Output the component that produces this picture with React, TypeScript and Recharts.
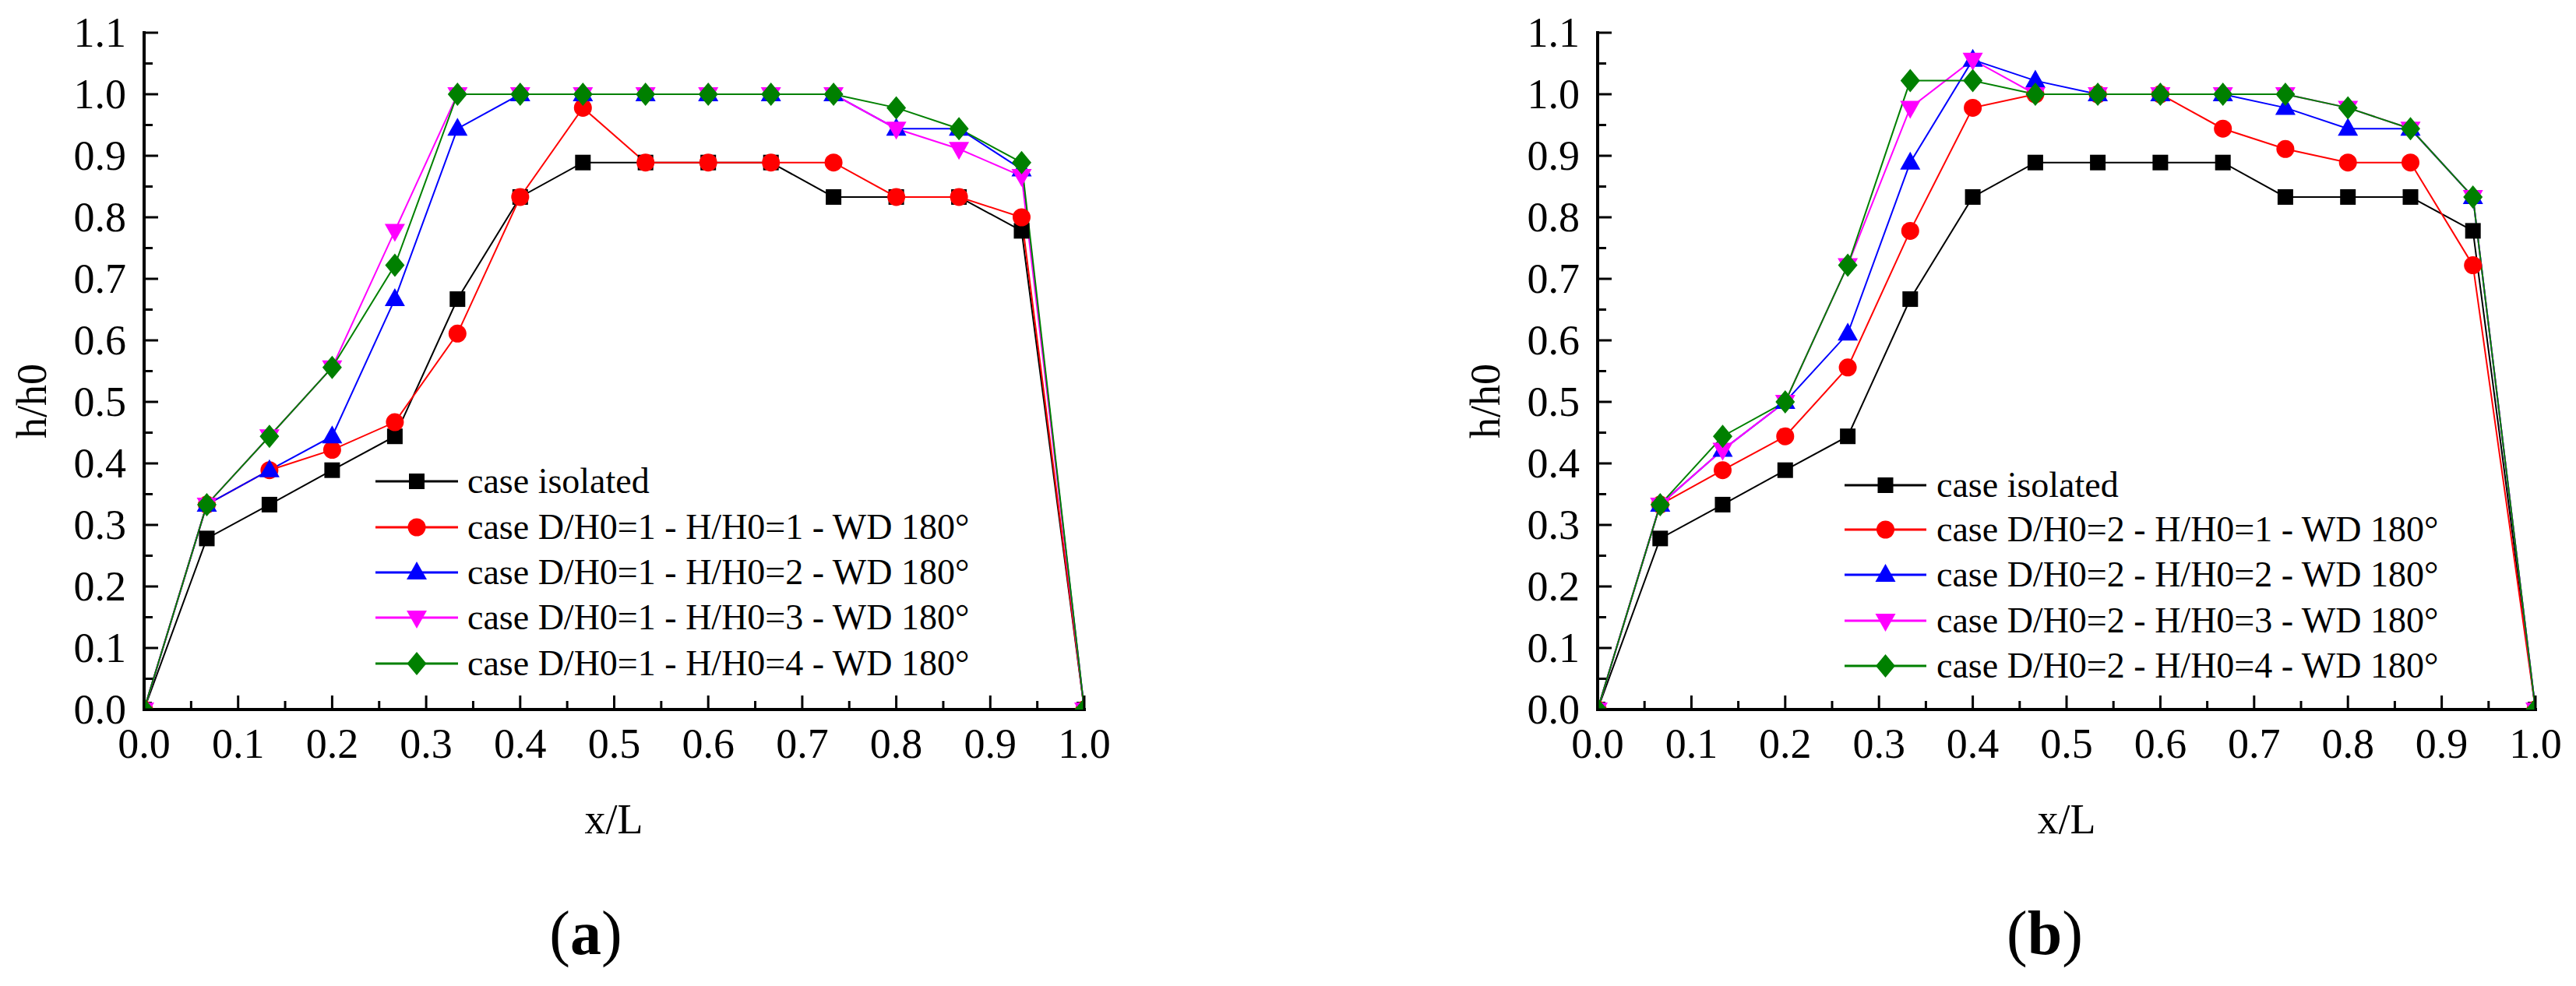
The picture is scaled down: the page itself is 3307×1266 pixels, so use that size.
import React from 'react';
import { LineChart, Line, XAxis, YAxis } from 'recharts';

const FONT = '"Liberation Serif", "Times New Roman", Times, serif';

// x/L positions of the measurement points
const xPositions = [0, 0.0667, 0.1333, 0.2, 0.2667, 0.3333, 0.4, 0.4667, 0.5333, 0.6, 0.6667, 0.7333, 0.8, 0.8667, 0.9333, 1.0];

// Panel (a): D/H0 = 1
const isolatedA = [0, 0.278, 0.333, 0.389, 0.444, 0.667, 0.833, 0.889, 0.889, 0.889, 0.889, 0.833, 0.833, 0.833, 0.778, 0];
const h1A = [0, 0.333, 0.389, 0.422, 0.467, 0.611, 0.833, 0.978, 0.889, 0.889, 0.889, 0.889, 0.833, 0.833, 0.8, 0];
const h2A = [0, 0.333, 0.389, 0.444, 0.667, 0.944, 1.0, 1.0, 1.0, 1.0, 1.0, 1.0, 0.944, 0.944, 0.878, 0];
const h3A = [0, 0.333, 0.444, 0.556, 0.778, 1.0, 1.0, 1.0, 1.0, 1.0, 1.0, 1.0, 0.944, 0.911, 0.867, 0];
const h4A = [0, 0.333, 0.444, 0.556, 0.722, 1.0, 1.0, 1.0, 1.0, 1.0, 1.0, 1.0, 0.978, 0.944, 0.889, 0];

// Panel (b): D/H0 = 2
const isolatedB = [0, 0.278, 0.333, 0.389, 0.444, 0.667, 0.833, 0.889, 0.889, 0.889, 0.889, 0.833, 0.833, 0.833, 0.778, 0];
const h1B = [0, 0.333, 0.389, 0.444, 0.556, 0.778, 0.978, 1.0, 1.0, 1.0, 0.944, 0.911, 0.889, 0.889, 0.722, 0];
const h2B = [0, 0.333, 0.422, 0.5, 0.611, 0.889, 1.056, 1.022, 1.0, 1.0, 1.0, 0.978, 0.944, 0.944, 0.833, 0];
const h3B = [0, 0.333, 0.422, 0.5, 0.722, 0.978, 1.056, 1.0, 1.0, 1.0, 1.0, 1.0, 0.978, 0.944, 0.833, 0];
const h4B = [0, 0.333, 0.444, 0.5, 0.722, 1.022, 1.022, 1.0, 1.0, 1.0, 1.0, 1.0, 0.978, 0.944, 0.833, 0];

const seriesKeys = ['iso', 'h1', 'h2', 'h3', 'h4'];
const seriesColors = ['#000000', '#ff0000', '#0000ff', '#ff00ff', '#008000'];
const seriesShapes = ['square', 'circle', 'up', 'down', 'diamond'];
const namesA = [
  'case isolated',
  'case D/H0=1 - H/H0=1 - WD 180°',
  'case D/H0=1 - H/H0=2 - WD 180°',
  'case D/H0=1 - H/H0=3 - WD 180°',
  'case D/H0=1 - H/H0=4 - WD 180°',
];
const namesB = [
  'case isolated',
  'case D/H0=2 - H/H0=1 - WD 180°',
  'case D/H0=2 - H/H0=2 - WD 180°',
  'case D/H0=2 - H/H0=3 - WD 180°',
  'case D/H0=2 - H/H0=4 - WD 180°',
];

const xTicks = [0, 0.05, 0.1, 0.15, 0.2, 0.25, 0.3, 0.35, 0.4, 0.45, 0.5, 0.55, 0.6, 0.65, 0.7, 0.75, 0.8, 0.85, 0.9, 0.95, 1.0];
const yTicks = [0, 0.05, 0.1, 0.15, 0.2, 0.25, 0.3, 0.35, 0.4, 0.45, 0.5, 0.55, 0.6, 0.65, 0.7, 0.75, 0.8, 0.85, 0.9, 0.95, 1.0, 1.05, 1.1];

const buildData = (cols: number[][]) =>
  xPositions.map((x, i) => {
    const row: any = { x };
    seriesKeys.forEach((k, s) => {
      row[k] = cols[s][i];
    });
    return row;
  });

const dataA = buildData([isolatedA, h1A, h2A, h3A, h4A]);
const dataB = buildData([isolatedB, h1B, h2B, h3B, h4B]);

const isMajor = (v: number) => Math.abs(v * 10 - Math.round(v * 10)) < 1e-6;
const MAJOR = 18;
const MINOR = 11;
const TICK_W = 3;
const TICK_FONT = 54;

function Marker({ shape, cx, cy, color }: any) {
  if (cx == null || cy == null || isNaN(cx) || isNaN(cy)) return null;
  switch (shape) {
    case 'square':
      return <rect x={cx - 10} y={cy - 10} width={20} height={20} fill={color} />;
    case 'circle':
      return <circle cx={cx} cy={cy} r={11.5} fill={color} />;
    case 'up':
      return <polygon points={`${cx},${cy - 14} ${cx + 13},${cy + 9} ${cx - 13},${cy + 9}`} fill={color} />;
    case 'down':
      return <polygon points={`${cx},${cy + 14} ${cx + 13},${cy - 9} ${cx - 13},${cy - 9}`} fill={color} />;
    case 'diamond':
      return <polygon points={`${cx},${cy - 15} ${cx + 12.5},${cy} ${cx},${cy + 15} ${cx - 12.5},${cy}`} fill={color} />;
    default:
      return null;
  }
}

const BottomTick = (p: any) => {
  const { x, y, payload } = p;
  const v = payload.value;
  const major = isMajor(v);
  return (
    <g>
      <line x1={x} x2={x} y1={y} y2={y - (major ? MAJOR : MINOR)} stroke="#000" strokeWidth={TICK_W} />
      {major && (
        <text x={x} y={y + 62} textAnchor="middle" fontSize={TICK_FONT} fontFamily={FONT} fill="#000">
          {v.toFixed(1)}
        </text>
      )}
    </g>
  );
};

const TopTick = (p: any) => {
  const { x, y, payload } = p;
  const major = isMajor(payload.value);
  return <line x1={x} x2={x} y1={y} y2={y + (major ? MAJOR : MINOR)} stroke="#000" strokeWidth={TICK_W} />;
};

const LeftTick = (p: any) => {
  const { x, y, payload } = p;
  const v = payload.value;
  const major = isMajor(v);
  return (
    <g>
      <line x1={x} x2={x + (major ? MAJOR : MINOR)} y1={y} y2={y} stroke="#000" strokeWidth={TICK_W} />
      {major && (
        <text x={x - 23} y={y + 18} textAnchor="end" fontSize={TICK_FONT} fontFamily={FONT} fill="#000">
          {v.toFixed(1)}
        </text>
      )}
    </g>
  );
};

const RightTick = (p: any) => {
  const { x, y, payload } = p;
  const major = isMajor(payload.value);
  return <line x1={x} x2={x - (major ? MAJOR : MINOR)} y1={y} y2={y} stroke="#000" strokeWidth={TICK_W} />;
};

const AXIS_LINE = { stroke: '#000', strokeWidth: 4, strokeLinecap: 'square' as const };

function Panel({ left, width, plotLeft, plotRight, data }: any) {
  const height = 1266;
  return (
    <div style={{ position: 'absolute', left, top: 0, width, height }}>
      <LineChart width={width} height={height} data={data} margin={{ top: 42, right: width - plotRight, bottom: 295, left: 0 }}>
        <XAxis
          xAxisId="b"
          type="number"
          dataKey="x"
          domain={[0, 1]}
          ticks={xTicks}
          interval={0}
          tick={(p: any) => <BottomTick {...p} />}
          tickLine={false}
          tickSize={0}
          tickMargin={0}
          axisLine={AXIS_LINE}
          height={60}
          allowDataOverflow
        />
        <XAxis
          xAxisId="t"
          orientation="top"
          type="number"
          dataKey="x"
          domain={[0, 1]}
          ticks={xTicks}
          interval={0}
          tick={(p: any) => <TopTick {...p} />}
          tickLine={false}
          tickSize={0}
          tickMargin={0}
          axisLine={AXIS_LINE}
          height={0}
          allowDataOverflow
        />
        <YAxis
          yAxisId="l"
          type="number"
          domain={[0, 1.1]}
          ticks={yTicks}
          interval={0}
          tick={(p: any) => <LeftTick {...p} />}
          tickLine={false}
          tickSize={0}
          tickMargin={0}
          axisLine={AXIS_LINE}
          width={plotLeft}
          allowDataOverflow
        />
        <YAxis
          yAxisId="r"
          orientation="right"
          type="number"
          domain={[0, 1.1]}
          ticks={yTicks}
          interval={0}
          tick={(p: any) => <RightTick {...p} />}
          tickLine={false}
          tickSize={0}
          tickMargin={0}
          axisLine={AXIS_LINE}
          width={0}
          allowDataOverflow
        />
        {seriesKeys.map((k, s) => (
          <Line
            key={k}
            xAxisId="b"
            yAxisId="l"
            type="linear"
            dataKey={k}
            stroke={seriesColors[s]}
            strokeWidth={2}
            isAnimationActive={false}
            activeDot={false}
            dot={(dp: any) => (
              <Marker key={`${k}-${dp.index}`} shape={seriesShapes[s]} cx={dp.cx} cy={dp.cy} color={seriesColors[s]} />
            )}
          />
        ))}
      </LineChart>
    </div>
  );
}

function Legend({ lineX0, lineX1, textX, rows, names }: any) {
  const mx = (lineX0 + lineX1) / 2;
  return (
    <g>
      {names.map((n: string, i: number) => (
        <g key={n}>
          <line x1={lineX0} x2={lineX1} y1={rows[i]} y2={rows[i]} stroke={seriesColors[i]} strokeWidth={3} />
          <Marker shape={seriesShapes[i]} cx={mx} cy={rows[i]} color={seriesColors[i]} />
          <text x={textX} y={rows[i] + 15} fontSize={46} fontFamily={FONT} fill="#000">
            {n}
          </text>
        </g>
      ))}
    </g>
  );
}

function Annotations() {
  return (
    <svg width={3307} height={1266} style={{ position: 'absolute', left: 0, top: 0, pointerEvents: 'none' }}>
      {/* panel a */}
      <text x={41} y={515} transform="rotate(-90 41 515)" textAnchor="middle" dominantBaseline="central" fontSize={TICK_FONT} fontFamily={FONT} fill="#000">
        h/h0
      </text>
      <text x={788} y={1070} textAnchor="middle" fontSize={TICK_FONT} fontFamily={FONT} fill="#000">
        x/L
      </text>
      <text x={752} y={1225} textAnchor="middle" fontSize={80} fontFamily={FONT} fill="#000">
        (<tspan fontWeight="bold">a</tspan>)
      </text>
      <Legend lineX0={482} lineX1={588} textX={600} rows={[618, 677, 735, 793, 852]} names={namesA} />
      {/* panel b */}
      <text x={1907} y={515} transform="rotate(-90 1907 515)" textAnchor="middle" dominantBaseline="central" fontSize={TICK_FONT} fontFamily={FONT} fill="#000">
        h/h0
      </text>
      <text x={2653} y={1070} textAnchor="middle" fontSize={TICK_FONT} fontFamily={FONT} fill="#000">
        x/L
      </text>
      <text x={2625} y={1225} textAnchor="middle" fontSize={80} fontFamily={FONT} fill="#000">
        (<tspan fontWeight="bold">b</tspan>)
      </text>
      <Legend lineX0={2368} lineX1={2473} textX={2486} rows={[623, 680, 738, 797, 855]} names={namesB} />
    </svg>
  );
}

export default function App() {
  return (
    <div style={{ position: 'absolute', left: 0, top: 0, width: 3307, height: 1266, background: '#fff', overflow: 'hidden' }}>
      <Panel left={0} width={1650} plotLeft={185} plotRight={1392} data={dataA} />
      <Panel left={1650} width={1657} plotLeft={401} plotRight={1605} data={dataB} />
      <Annotations />
    </div>
  );
}
